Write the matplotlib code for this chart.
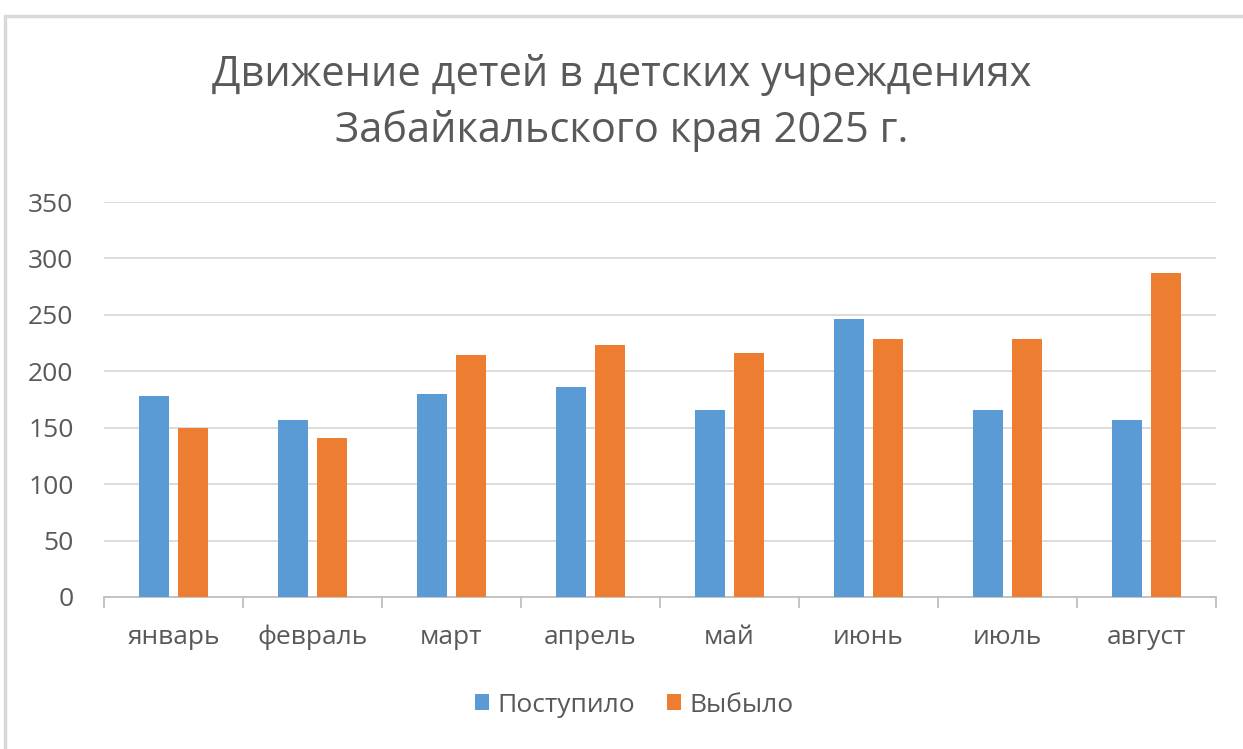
import numpy as np
import matplotlib
matplotlib.use("Agg")
import matplotlib.pyplot as plt
from matplotlib.patches import Rectangle

months = ["январь", "февраль", "март", "апрель", "май", "июнь", "июль", "август"]
arrived = [178, 157, 180, 186, 166, 246, 166, 157]   # Поступило
left_ = [150, 141, 214, 223, 216, 229, 229, 287]     # Выбыло
yticks = [0, 50, 100, 150, 200, 250, 300, 350]

plt.rcParams['font.family'] = ['Open Sans', 'DejaVu Sans']
text_col = "#595959"
blue = "#5B9BD5"
orange = "#ED7D31"

fig = plt.figure(figsize=(12.43, 7.49), dpi=100)
ax = fig.add_axes([104/1243, 1 - 597/749, (1216 - 104)/1243, (597 - 202)/749])

# chart frame
fig.patches.append(Rectangle((5/1243, -0.01), 1.01, 1 - 16/749 + 0.01,
                             transform=fig.transFigure, fill=False,
                             edgecolor="#D9D9D9", linewidth=2.5))

x = np.arange(len(months))
w = 0.22
ax.bar(x - 0.14, arrived, w, color=blue, label="Поступило", zorder=3)
ax.bar(x + 0.14, left_, w, color=orange, label="Выбыло", zorder=3)

ax.set_xlim(-0.5, len(months) - 0.5)
ax.set_ylim(0, 350)
ax.set_yticks(yticks)
ax.grid(axis="y", color="#D9D9D9", linewidth=1.3, zorder=0)
for s in ["top", "right", "left"]:
    ax.spines[s].set_visible(False)
ax.spines["bottom"].set_color("#BFBFBF")
ax.spines["bottom"].set_linewidth(1.3)

ax.set_xticks(x)
ax.set_xticklabels(months)
ax.set_xticks(np.arange(len(months) + 1) - 0.5, minor=True)
ax.tick_params(axis="x", which="major", length=0, pad=20, labelsize=19, labelcolor=text_col)
ax.tick_params(axis="x", which="minor", length=8, color="#BFBFBF", width=1.3)
ax.tick_params(axis="y", length=0, pad=22, labelsize=19, labelcolor=text_col)

fig.text(0.5, 1 - 75/749, "Движение детей в детских учреждениях", ha="center", va="center",
         fontsize=30, color=text_col)
fig.text(0.5, 1 - 131/749, "Забайкальского края 2025 г.", ha="center", va="center",
         fontsize=30, color=text_col)

fig.legend(loc="center", bbox_to_anchor=(0.51, 1 - 705/749), ncol=2, frameon=False,
           fontsize=19, labelcolor=text_col, handlelength=0.55, handleheight=0.55,
           handletextpad=0.3, columnspacing=1.2)

fig.savefig("out.png", dpi=100)
